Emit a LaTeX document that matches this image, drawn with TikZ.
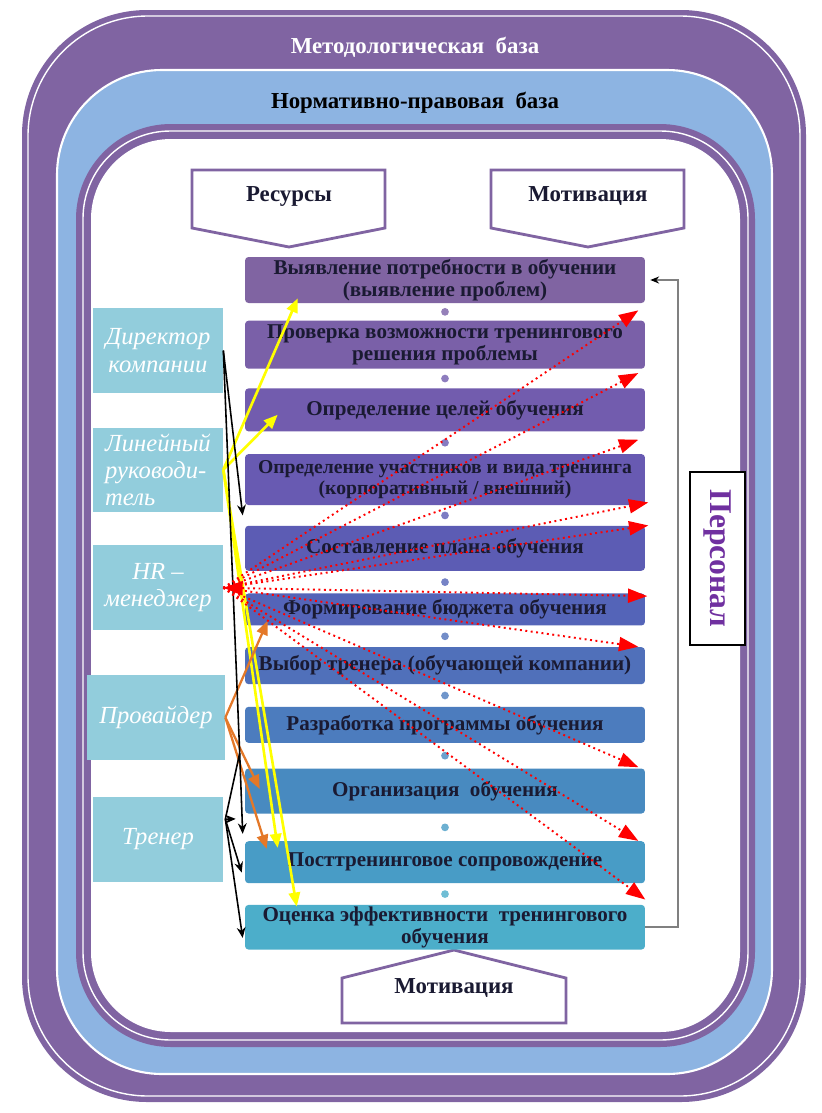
\documentclass[tikz,border=0pt]{standalone}
\usepackage{fontspec}
\setmainfont{Liberation Serif}
\usetikzlibrary{positioning,arrows.meta,calc}

\definecolor{frameviolet}{RGB}{128,100,162}
\definecolor{framesky}{RGB}{141,180,226}
\definecolor{roleteal}{RGB}{146,205,220}
\definecolor{txtnavy}{RGB}{26,26,50}
\definecolor{persviolet}{RGB}{112,48,160}
\definecolor{yline}{RGB}{255,255,0}
\definecolor{oline}{RGB}{228,120,40}
\definecolor{st1}{RGB}{128,100,162}
\definecolor{st2}{RGB}{122,96,168}
\definecolor{st3}{RGB}{114,92,174}
\definecolor{st4}{RGB}{104,90,178}
\definecolor{st5}{RGB}{92,92,180}
\definecolor{st6}{RGB}{84,100,184}
\definecolor{st7}{RGB}{80,112,186}
\definecolor{st8}{RGB}{76,124,190}
\definecolor{st9}{RGB}{72,138,192}
\definecolor{st10}{RGB}{72,156,198}
\definecolor{st11}{RGB}{76,174,202}

\begin{document}
\begin{tikzpicture}[
    x=0.02cm, y=-0.02cm,
    stepbox/.style={
        rectangle,
        rounded corners=2pt,
        minimum width=8cm,
        inner sep=1pt,
        align=center,
        text=txtnavy,
        font=\fontsize{12}{12.5}\selectfont\bfseries
    },
    role/.style={
        rectangle,
        fill=roleteal,
        minimum width=2.6cm,
        minimum height=1.7cm,
        align=center,
        text=white,
        font=\fontsize{14}{15.5}\selectfont\itshape
    },
    banner/.style={font=\fontsize{13}{15}\selectfont\bfseries},
    pent/.style={draw=frameviolet, line width=1.6pt, fill=white},
    hrarrow/.style={red, dotted, line width=1.1pt, -{Triangle[length=11pt,width=8pt]}},
    hrboth/.style={red, dotted, line width=1.1pt, {Triangle[length=11pt,width=8pt]}-{Triangle[length=11pt,width=8pt]}},
    lnarrow/.style={yline, line width=1.5pt, -{Triangle[length=8pt,width=6.5pt]}},
    prarrow/.style={oline, line width=1.3pt, -{Triangle[length=8pt,width=6.5pt]}},
    blkline/.style={black, line width=0.9pt},
    blkarrow/.style={blkline, -{Stealth[length=6pt,width=5pt]}},
    fbarrow/.style={gray, line width=1pt, -{Stealth[length=5pt,width=4pt,color=black]}}
]
\useasboundingbox (0,0) rectangle (822,1113);

% ============================================================
% RAMKI
% ============================================================
\fill[frameviolet, rounded corners=2.5cm] (22,10) rectangle (806,1102);
\draw[white, line width=0.8pt, rounded corners=2.4cm] (28,16) rectangle (800,1096);
\filldraw[fill=framesky, draw=white, line width=1.2pt, rounded corners=2.1cm] (57,70) rectangle (772,1074);
\fill[frameviolet, rounded corners=1.9cm] (76,124) rectangle (755,1047);
\draw[white, line width=0.8pt, rounded corners=1.75cm] (83,131) rectangle (748,1040);
\fill[white, rounded corners=1.6cm] (91,139) rectangle (740,1032);

\node[banner, text=white] (methlbl) at (415,47) {Методологическая~~база};
\node[banner, text=black] (normlbl) at (415,103) {Нормативно-правовая~~база};

% ============================================================
% STRZALKI-PIECIOKATY
% ============================================================
\draw[pent] (192,170) -- (385,170) -- (385,228) -- (289,247) -- (192,228) -- cycle;
\draw[pent] (491,170) -- (684,170) -- (684,228) -- (588,247) -- (491,228) -- cycle;
\draw[pent] (342,1023) -- (566,1023) -- (566,978) -- (454,950) -- (342,978) -- cycle;
\node[banner, text=txtnavy] (res) at (289,196) {Ресурсы};
\node[banner, text=txtnavy] (motup) at (588,196) {Мотивация};
\node[banner, text=txtnavy] (motdn) at (454,988) {Мотивация};

% ============================================================
% ETAPY
% ============================================================
\node[stepbox, fill=st1, minimum height=0.92cm] (s1) at (445,280) {Выявление потребности в обучении\\(выявление проблем)};
\node[stepbox, fill=st2, minimum height=0.96cm, below=0.34cm of s1] (s2) {Проверка возможности тренингового\\решения проблемы};
\node[stepbox, fill=st3, minimum height=0.86cm, below=0.38cm of s2] (s3) {Определение целей обучения};
\node[stepbox, fill=st4, minimum height=1.02cm, below=0.44cm of s3,
      font=\fontsize{11.2}{12.5}\selectfont\bfseries] (s4) {Определение участников и вида тренинга\\(корпоративный / внешний)};
\node[stepbox, fill=st5, minimum height=0.90cm, below=0.40cm of s4] (s5) {Составление плана обучения};
\node[stepbox, fill=st6, minimum height=0.64cm, below=0.44cm of s5] (s6) {Формирование бюджета обучения};
\node[stepbox, fill=st7, minimum height=0.74cm, below=0.42cm of s6] (s7) {Выбор тренера (обучающей компании)};
\node[stepbox, fill=st8, minimum height=0.72cm, below=0.44cm of s7] (s8) {Разработка программы обучения};
\node[stepbox, fill=st9, minimum height=0.90cm, below=0.50cm of s8] (s9) {Организация~~обучения};
\node[stepbox, fill=st10, minimum height=0.84cm, below=0.54cm of s9] (s10) {Посттренинговое сопровождение};
\node[stepbox, fill=st11, minimum height=0.84cm, below=0.42cm of s10] (s11) {Оценка эффективности~~тренингового\\обучения};

\foreach \a/\b in {1/2,2/3,3/4,4/5,5/6,6/7,7/8,8/9,9/10,10/11}
    \fill[st\b!80!white] ($(s\a.south)!0.5!(s\b.north)$) circle (2.2pt);

% ============================================================
% UCZESTNICY
% ============================================================
\node[role] (dir) at (158,350.5) {Директор\\компании};
\node[role, minimum height=1.66cm, align=left, below=0.68cm of dir] (lin) {Линейный\\руководи-\\тель};
\node[role, below=0.66cm of lin] (hr) {HR –\\менеджер};
\node[role, minimum width=2.76cm, below=0.88cm of hr, xshift=-0.04cm] (prov) {Провайдер};
\node[role, below=0.72cm of prov, xshift=0.04cm] (tr) {Тренер};

\node[draw=black, line width=1.2pt, fill=white, rotate=-90,
      minimum width=3.46cm, minimum height=1.1cm,
      text=persviolet, font=\fontsize{18}{20}\selectfont\bfseries] (pers) at (717.5,558.5) {Персонал};

% sprzezenie zwrotne
\draw[fbarrow] (s11.east) -- ++(33,0) |- ([xshift=0.1cm]s1.east);

% ============================================================
% POWIAZANIA
% ============================================================
% linejny rukovoditel
\draw[lnarrow] (lin.east) -- ($(s1.south west)+(53,-5)$);
\draw[lnarrow] (lin.east) -- ($(s3.south west)+(33,-17)$);
\draw[lnarrow] (lin.east) -- ($(s10.north west)+(33,7)$);
\draw[lnarrow] (lin.east) -- ($(s11.north west)+(52,2)$);

% provajder
\draw[prarrow] (prov.east) -- ($(s6.south west)+(23,-5)$);
\draw[prarrow] (prov.east) -- ($(s9.west)+(15,-2)$);
\draw[prarrow] (prov.east) -- ($(s10.north west)+(22,8)$);

% direktor i trener
\coordinate (jn) at ($(s8.south west)+(-5,10)$);
\coordinate (trj) at ($(tr.east)+(2,-20)$);
\draw[blkarrow] (dir.east) -- ($(s5.north west)+(-2,-10)$);
\draw[blkline] (dir.east) -- (jn) -- (trj);
\draw[blkarrow] (jn) -- ($(s10.north west)+(-2,-7)$);
\draw[blkarrow] (trj) -- ($(s9.south west)+(-9,5)$);
\draw[blkarrow] (trj) -- ($(s10.south west)+(-3,-11)$);
\draw[blkarrow] (trj) -- ($(s11.south west)+(-2,-12)$);

% HR
\foreach \tgt/\dx/\dy in {s1.south east/-7/7, s2.south east/-7/4, s3.south east/-7/8,
        s4.south east/3/-3, s5.north east/3/0, s7.north east/-7/0,
        s9.north east/-7/-1, s10.north east/-7/0, s11.north east/0/-5}
    \draw[hrarrow] (hr.east) -- ($(\tgt)+(\dx,\dy)$);
\draw[hrboth] (hr.east) -- ($(s6.north east)+(2,3)$);

\end{tikzpicture}
\end{document}
